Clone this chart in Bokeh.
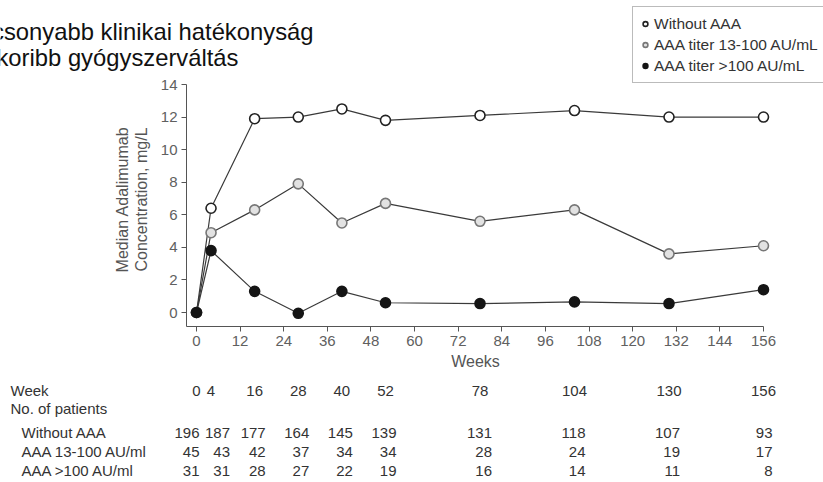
import math
from bokeh.plotting import figure
from bokeh.models import (ColumnDataSource, Range1d, FixedTicker, Legend,
                          LegendItem, Label, LabelSet)
from bokeh.core.properties import value
from bokeh.embed import file_html
from bokeh.resources import INLINE

# ---------------- data ----------------
weeks = [0, 4, 16, 28, 40, 52, 78, 104, 130, 156]
without_aaa = [0, 6.4, 11.9, 12.0, 12.5, 11.8, 12.1, 12.4, 12.0, 12.0]
aaa_13_100 = [0, 4.9, 6.3, 7.9, 5.5, 6.7, 5.6, 6.3, 3.6, 4.1]
aaa_gt100 = [0, 3.8, 1.3, -0.05, 1.3, 0.6, 0.55, 0.65, 0.55, 1.4]

x_ticks = [0, 12, 24, 36, 48, 60, 72, 84, 96, 108, 120, 132, 144, 156]
y_ticks = [0, 2, 4, 6, 8, 10, 12, 14]

series_labels = ["Without AAA", "AAA titer 13-100 AU/mL", "AAA titer >100 AU/mL"]
table_row_labels = ["Without AAA", "AAA 13-100 AU/ml", "AAA >100 AU/ml"]
n_without = [196, 187, 177, 164, 145, 139, 131, 118, 107, 93]
n_13_100 = [45, 43, 42, 37, 34, 34, 28, 24, 19, 17]
n_gt100 = [31, 31, 28, 27, 22, 19, 16, 14, 11, 8]

title_lines = ["Alacsonyabb klinikai hatékonyság", "Gyakoribb gyógyszerváltás"]
x_title = "Weeks"
y_title_lines = ["Median Adalimumab", "Concentration, mg/L"]

# ---------------- layout helpers (canvas pixel -> data) ----------------
FONT = "Liberation Sans"
W, H = 823, 482
SX = 567.0 / 156.0      # px per week
SY = 228.0 / 14.0       # px per mg/L
X0, Y0 = 196.0, 312.0   # canvas px of the data origin


def X(px):
    return (px - X0) / SX


def Y(py):
    return (Y0 - py) / SY


p = figure(width=W, height=H, output_backend="svg", toolbar_location=None,
           x_range=Range1d(X(0), X(W)), y_range=Range1d(Y(H), Y(0)),
           min_border_left=0, min_border_right=0, min_border_top=0,
           min_border_bottom=0)
p.outline_line_color = None
p.xgrid.visible = False
p.ygrid.visible = False
p.background_fill_color = "white"
p.border_fill_color = "white"

AX = "#555555"
for ax in (p.xaxis, p.yaxis):
    ax.axis_line_color = AX
    ax.major_tick_line_color = AX
    ax.major_tick_out = 5
    ax.major_tick_in = 0
    ax.minor_tick_line_color = None
    ax.major_label_text_font = FONT
    ax.major_label_text_font_size = "15px"
    ax.major_label_text_color = "#606060"

p.xaxis.ticker = FixedTicker(ticks=x_ticks)
p.yaxis.ticker = FixedTicker(ticks=y_ticks)
p.xaxis.fixed_location = Y(326)
p.yaxis.fixed_location = X(186)
p.xaxis.bounds = (X(186), 156)
p.yaxis.bounds = (Y(326), 14)
p.xaxis.major_label_standoff = 4
p.yaxis.major_label_standoff = 4

series = [
    (without_aaa, "white", "#222222"),
    (aaa_13_100, "#e2e2e2", "#777777"),
    (aaa_gt100, "#151515", "#151515"),
]
marker_renderers = []
for vals, fill, edge in series:
    src = ColumnDataSource(dict(x=weeks, y=vals))
    p.line("x", "y", source=src, line_color="#3a3a3a", line_width=1.2)
for vals, fill, edge in series:
    src = ColumnDataSource(dict(x=weeks, y=vals))
    r = p.scatter("x", "y", source=src, size=10, fill_color=fill,
                  line_color=edge, line_width=1.6)
    marker_renderers.append(r)

legend = Legend(items=[LegendItem(label=lab, renderers=[r])
                       for lab, r in zip(series_labels, marker_renderers)],
                location=(632, H - 83), margin=0, padding=6, spacing=0,
                label_height=21, glyph_height=21, glyph_width=12,
                label_standoff=3, label_text_font=FONT,
                label_text_font_size="15.5px", label_text_color="#333333",
                border_line_color="#777777", border_line_width=1,
                background_fill_color="white", background_fill_alpha=1)
p.add_layout(legend)

# ---------------- axis titles ----------------
p.add_layout(Label(x=X(475), y=Y(361), text=x_title, text_align="center",
                   text_baseline="middle", text_font=FONT,
                   text_font_size="16px", text_color=AX))
for txt, px in zip(y_title_lines, [122, 141]):
    p.add_layout(Label(x=X(px), y=Y(199), text=txt, angle=math.pi / 2,
                       text_align="center", text_baseline="middle",
                       text_font=FONT, text_font_size="16px", text_color=AX))

# ---------------- title text (cropped at the left edge, as in the source) ----
for txt, px_right, py_base in zip(title_lines, [313, 238], [31, 57]):
    p.add_layout(Label(x=X(px_right), y=Y(py_base), text=txt,
                       text_align="right", text_baseline="alphabetic",
                       text_font=FONT, text_font_size="23.8px",
                       text_color="#111111"))

# ---------------- patient table ----------------
TXT = "#333333"
row_week_y = Y(390)
p.add_layout(Label(x=X(10), y=row_week_y, text="Week", text_align="left",
                   text_baseline="middle", text_font=FONT,
                   text_font_size="15px", text_color=TXT))
p.add_layout(Label(x=X(10), y=Y(408), text="No. of patients",
                   text_align="left", text_baseline="middle", text_font=FONT,
                   text_font_size="15px", text_color=TXT))

wk_src = ColumnDataSource(dict(x=weeks, y=[row_week_y] * len(weeks),
                               t=[str(w) for w in weeks]))
p.add_layout(LabelSet(x="x", y="y", text="t", source=wk_src,
                      text_align="center", text_baseline="middle",
                      text_font=value(FONT), text_font_size=value("15px"),
                      text_color=TXT))

count_dx = [3, 19, 11, 11, 11, 11, 12, 11, 11, 9]
for lab, counts, py in zip(table_row_labels, [n_without, n_13_100, n_gt100],
                           [432, 451, 470]):
    yy = Y(py)
    p.add_layout(Label(x=X(21), y=yy, text=lab, text_align="left",
                       text_baseline="middle", text_font=FONT,
                       text_font_size="15px", text_color=TXT))
    src = ColumnDataSource(dict(x=weeks, y=[yy] * len(weeks),
                                t=[str(c) for c in counts], dx=count_dx))
    p.add_layout(LabelSet(x="x", y="y", text="t", x_offset="dx", source=src,
                          text_align="right", text_baseline="middle",
                          text_font=value(FONT), text_font_size=value("15px"),
                          text_color=TXT))

open("out.html", "w").write(file_html(p, INLINE))
